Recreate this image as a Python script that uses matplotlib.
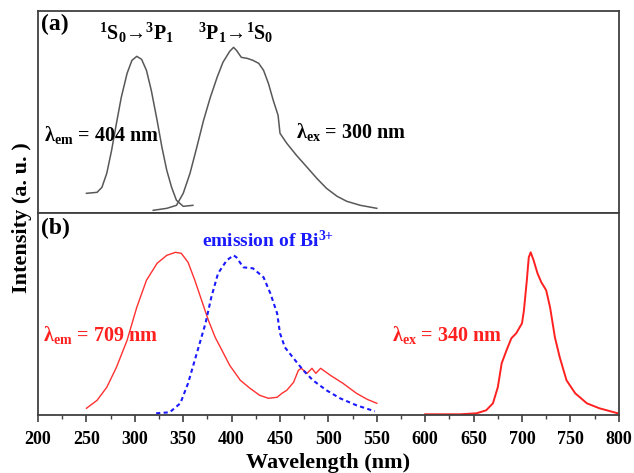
import matplotlib
matplotlib.use("Agg")
import matplotlib.pyplot as plt
from matplotlib.ticker import MultipleLocator

plt.rcParams['font.family'] = ['Liberation Serif', 'DejaVu Serif']
plt.rcParams['font.weight'] = 'bold'
plt.rcParams['mathtext.fontset'] = 'custom'
plt.rcParams['mathtext.rm'] = 'Liberation Serif:bold'
plt.rcParams['mathtext.it'] = 'Liberation Serif:bold'
plt.rcParams['mathtext.bf'] = 'Liberation Serif:bold'
plt.rcParams['mathtext.default'] = 'rm'

# (a) excitation of Bi3+ (lambda_em = 404 nm)
exc_a_x = [250, 261, 266, 271, 276, 281, 286, 292, 297, 302, 307, 312, 317, 323,
           328, 333, 338, 343, 350, 360]
exc_a_y = [20, 21, 26, 40, 63, 90, 116, 140, 153, 157, 154, 143, 123, 93,
           66, 43, 26, 13, 7, 8]

# (a) emission of Bi3+ (lambda_ex = 300 nm)
emi_a_x = [319, 333, 343, 350, 357, 364, 371, 378, 385, 391, 398, 402, 405, 410,
           416, 422, 428, 433, 438, 443, 448, 450, 457, 467, 478, 488, 498, 509,
           519, 533, 550]
emi_a_y = [3, 5, 8, 20, 40, 66, 93, 116, 136, 151, 162, 166, 163, 156,
           155, 153, 150, 143, 130, 113, 98, 80, 70, 58, 46, 35, 25, 17,
           12, 8, 5]

# (b) excitation monitored at 709 nm
exc_b_x = [250, 261, 271, 281, 292, 302, 312, 323, 333, 342, 348, 355, 362, 369,
           376, 383, 390, 398, 409, 419, 429, 438, 447, 452, 457, 464, 469, 472,
           478, 483, 487, 492, 502, 515, 529, 540, 550]
exc_b_y = [7, 15, 28, 48, 75, 108, 135, 152, 160, 163, 162, 153, 135, 115,
           95, 78, 65, 50, 35, 27, 20, 17, 18, 22, 25, 33, 45, 47,
           42, 47, 42, 47, 40, 32, 22, 16, 12]

# (b) emission excited at 340 nm
emi_b_x = [600, 636, 653, 663, 670, 675, 679, 684, 689, 694, 700, 702, 705, 707,
           709, 712, 716, 720, 725, 729, 734, 739, 746, 755, 767, 780, 799]
emi_b_y = [1, 1, 2, 5, 12, 28, 52, 65, 77, 82, 92, 105, 135, 158,
           163, 155, 142, 133, 125, 108, 78, 58, 35, 22, 12, 7, 2]

# (b) emission of Bi3+ (dashed)
bi_x = [322, 336, 347, 355, 364, 373, 379, 386, 395, 402, 405, 412, 422, 433,
        440, 447, 450, 455, 464, 474, 484, 498, 512, 529, 548]
bi_y = [2, 3, 12, 32, 62, 92, 118, 142, 155, 160, 158, 148, 147, 138,
        122, 102, 82, 68, 57, 45, 35, 25, 17, 10, 4]

xticks = list(range(200, 801, 50))

fig = plt.figure(figsize=(6.34, 4.73), dpi=100)
ax1 = fig.add_axes([0.060, 0.549, 0.916, 0.427])
ax2 = fig.add_axes([0.060, 0.122, 0.916, 0.427])

frame = '#404040'
for ax in (ax1, ax2):
    ax.set_xlim(200, 800)
    ax.set_ylim(0, 202)
    ax.set_yticks([])
    for s in ax.spines.values():
        s.set_color(frame)
        s.set_linewidth(1.3)

ax1.tick_params(axis='x', which='both', bottom=False, labelbottom=False)
ax2.set_xticks(xticks)
ax2.xaxis.set_minor_locator(MultipleLocator(25))
ax2.tick_params(axis='x', which='major', direction='out', length=5, width=1.2,
                color=frame, labelsize=13, pad=6)
ax2.tick_params(axis='x', which='minor', direction='out', length=3, width=1.0, color=frame)

ax1.plot(exc_a_x, exc_a_y, color='#585858', lw=1.1)
ax1.plot(emi_a_x, emi_a_y, color='#585858', lw=1.1)

ax2.plot(exc_b_x, exc_b_y, color='#ff3030', lw=1.0)
ax2.plot(emi_b_x, emi_b_y, color='#ff2020', lw=1.4)
ax2.plot(bi_x, bi_y, color='#1a1aff', lw=1.5, ls=(0, (2.0, 1.6)))

ax1.text(203, 189, '(a)', fontsize=17, fontweight='bold', va='center', ha='left')
ax1.text(302, 180, r'$^{1}$S$_{0}$→$^{3}$P$_{1}$', fontsize=14.5, va='center', ha='center')
ax1.text(404, 180, r'$^{3}$P$_{1}$→$^{1}$S$_{0}$', fontsize=14.5, va='center', ha='center')
ax1.text(206, 78, r'λ$_{em}$ = 404 nm', fontsize=14.5, va='center', ha='left')
ax1.text(466, 81, r'λ$_{ex}$ = 300 nm', fontsize=14.5, va='center', ha='left')

ax2.text(203, 187, '(b)', fontsize=17, fontweight='bold', va='center', ha='left')
ax2.text(369, 175, r'emission of Bi$^{3{+}}$', fontsize=14, color='#1a1aff', va='center', ha='left')
ax2.text(205, 80, r'λ$_{em}$ = 709 nm', fontsize=14.5, color='#ff2020', va='center', ha='left')
ax2.text(566, 80, r'λ$_{ex}$ = 340 nm', fontsize=14.5, color='#ff2020', va='center', ha='left')

ax2.set_xlabel('Wavelength (nm)', fontsize=16, fontweight='bold', labelpad=4)
fig.text(0.035, 0.539, 'Intensity (a. u. )', rotation=90, fontsize=16, fontweight='bold',
         ha='center', va='center')

fig.savefig('out.png', dpi=100)
